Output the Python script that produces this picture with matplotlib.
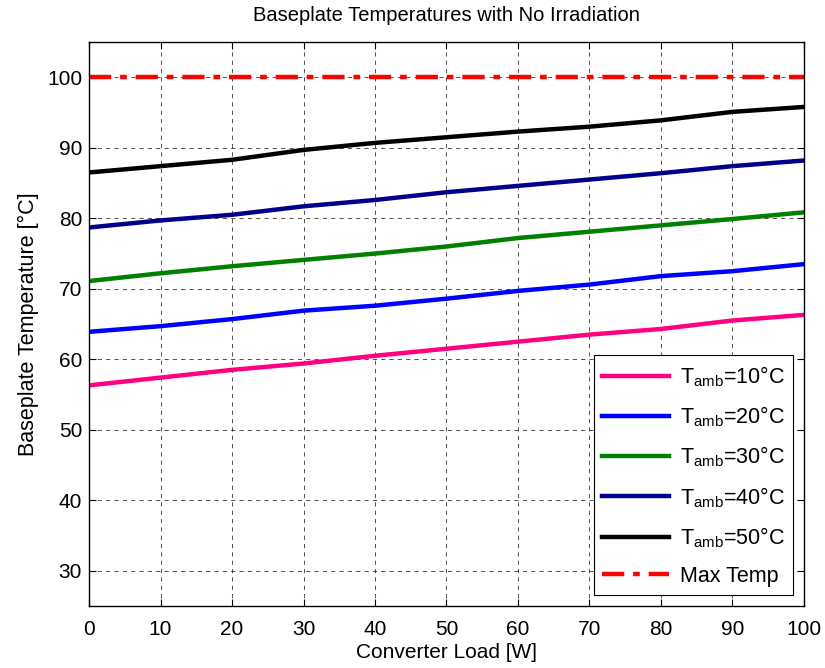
import matplotlib.pyplot as plt

plt.rcParams['font.family'] = ['Liberation Sans', 'DejaVu Sans']
plt.rcParams['mathtext.fontset'] = 'custom'
plt.rcParams['mathtext.rm'] = 'Liberation Sans'
plt.rcParams['mathtext.it'] = 'Liberation Sans'

# навантаження, Вт
load = [0, 10, 20, 30, 40, 50, 60, 70, 80, 90, 100]

# температури основи для різних T_amb
t10 = [56.3, 57.4, 58.5, 59.4, 60.5, 61.5, 62.5, 63.5, 64.3, 65.5, 66.3]
t20 = [63.9, 64.7, 65.7, 66.9, 67.6, 68.6, 69.7, 70.6, 71.8, 72.5, 73.5]
t30 = [71.1, 72.2, 73.2, 74.1, 75.0, 76.0, 77.2, 78.1, 79.0, 79.9, 80.85]
t40 = [78.7, 79.7, 80.5, 81.7, 82.6, 83.7, 84.6, 85.5, 86.4, 87.4, 88.2]
t50 = [86.5, 87.4, 88.3, 89.7, 90.7, 91.5, 92.3, 93.0, 93.9, 95.1, 95.8]
max_temp = 100

series = [
    (t10, '#FF0080', 10),
    (t20, '#0000FF', 20),
    (t30, '#008000', 30),
    (t40, '#00008B', 40),
    (t50, '#000000', 50),
]

fig = plt.figure(figsize=(8.25, 6.68), dpi=100)
ax = fig.add_axes([0.1079, 0.0928, 0.8666, 0.8442])

for vals, col, ta in series:
    ax.plot(load, vals, color=col, lw=3.2, label=r'T$_{\mathrm{amb}}$=%d°C' % ta)
ax.plot([load[0], load[-1]], [max_temp, max_temp], color='#FF0000', lw=3.2,
        dashes=(5, 2, 1.5, 2), label='Max Temp')

ax.set_xlim(0, 100)
ax.set_ylim(25, 105)
ax.set_xticks(range(0, 101, 10))
ax.set_yticks(range(30, 101, 10))
ax.tick_params(direction='in', top=True, right=True, labelsize=15, length=5, width=0.8, pad=5)
ax.tick_params(axis='x', pad=10)
ax.grid(True, color='black', ls=(0, (5, 5)), lw=0.6, alpha=0.8)
for s in ax.spines.values():
    s.set_linewidth(1)

ax.set_title('Baseplate Temperatures with No Irradiation', fontsize=14.5, pad=15)
ax.set_xlabel('Converter Load [W]', fontsize=15, labelpad=3)
ax.set_ylabel('Baseplate Temperature [°C]', fontsize=15.5, labelpad=6)

leg = ax.legend(loc='lower right', fontsize=15.5, handlelength=3.1, fancybox=False,
                framealpha=1, edgecolor='black', borderaxespad=0.5, labelspacing=0.73,
                handletextpad=0.5, borderpad=0.4)
leg.get_frame().set_linewidth(0.8)

plt.savefig('out.png', dpi=100)
